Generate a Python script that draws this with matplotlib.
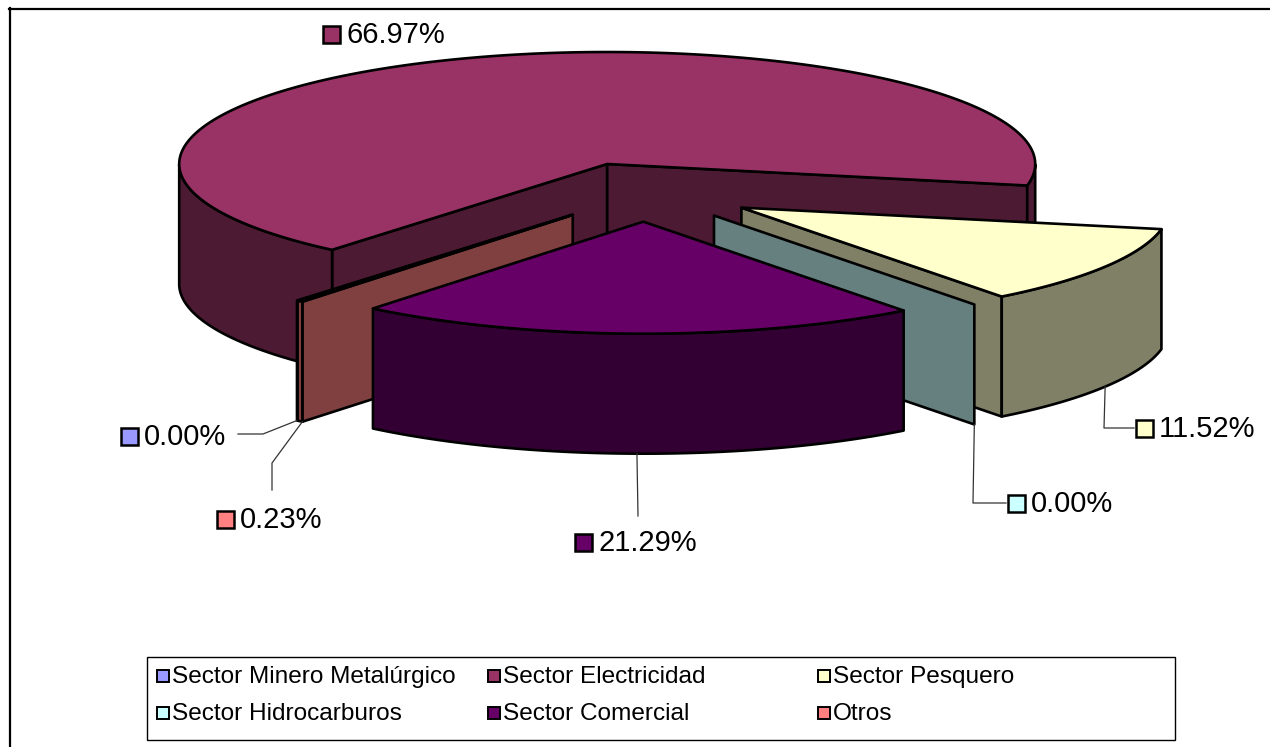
import numpy as np
import matplotlib.pyplot as plt
from matplotlib.patches import Polygon, Rectangle

# Datos
sectores = ["Sector Minero Metalúrgico", "Sector Electricidad", "Sector Pesquero",
            "Sector Hidrocarburos", "Sector Comercial", "Otros"]
porcentajes = [0.00, 66.97, 11.52, 0.00, 21.29, 0.23]
etiquetas = ["0.00%", "66.97%", "11.52%", "0.00%", "21.29%", "0.23%"]

color_top = ["#9999FF", "#993366", "#FFFFCC", "#CCFFFF", "#660066", "#FF8080"]
color_lado = ["#4D4D80", "#4D1A33", "#808066", "#668080", "#330033", "#804040"]

plt.rcParams['font.family'] = ['Liberation Sans', 'DejaVu Sans']

# geometria de la torta 3D (en pixeles)
cx, cy = 645, 192
rx, ry = 428, 112
alto = 120
explode = 0.265
inicio = 230  # angulo inicial, sentido horario


def proy(x, y, z=0.0):
    return (cx + rx * np.asarray(x), cy - ry * np.asarray(y) + alto * np.asarray(z))


fig = plt.figure(figsize=(12.7, 7.47), dpi=100)
ax = fig.add_axes([0, 0, 1, 1])
ax.set_xlim(0, 1270)
ax.set_ylim(747, 0)
ax.axis("off")

total = sum(porcentajes)
cum = np.concatenate([[0], np.cumsum(porcentajes)])
th_hi = np.radians(inicio - 360 * cum[:-1] / total)
th_lo = np.radians(inicio - 360 * cum[1:] / total)

rebanadas = []
for i in range(len(porcentajes)):
    mid = (th_hi[i] + th_lo[i]) / 2
    rebanadas.append((i, th_lo[i], th_hi[i], explode * np.cos(mid), explode * np.sin(mid), mid))

kw = dict(edgecolor="black", linewidth=1.9, joinstyle="round")

# paredes: de atras hacia adelante
for i, lo, hi, ox, oy, mid in sorted(rebanadas, key=lambda r: -np.sin(r[5])):
    # caras radiales
    caras = [(hi, hi + np.pi / 2), (lo, lo - np.pi / 2)]
    if hi == lo:
        caras = caras[1:] if np.sin(caras[0][1]) >= 0 else caras[:1]
    for phi, normal in caras:
        if np.sin(normal) < 0:
            xs = [ox, ox + np.cos(phi), ox + np.cos(phi), ox]
            ys = [oy, oy + np.sin(phi), oy + np.sin(phi), oy]
            zs = [0, 0, 1, 1]
            px, py = proy(xs, ys, zs)
            ax.add_patch(Polygon(np.column_stack([px, py]), facecolor=color_lado[i], **kw))
    # pared curva visible (frente)
    if hi > lo:
        t = np.linspace(lo, hi, 800)
        vis = np.sin(t) < 0
        idx = np.where(vis)[0]
        if len(idx):
            grupos = np.split(idx, np.where(np.diff(idx) > 1)[0] + 1)
            for g in grupos:
                tt = t[g]
                xt, yt = proy(ox + np.cos(tt), oy + np.sin(tt), 0)
                xb, yb = proy(ox + np.cos(tt), oy + np.sin(tt), 1)
                pts = np.column_stack([np.concatenate([xt, xb[::-1]]),
                                       np.concatenate([yt, yb[::-1]])])
                ax.add_patch(Polygon(pts, facecolor=color_lado[i], **kw))

# caras superiores
for i, lo, hi, ox, oy, mid in rebanadas:
    if hi > lo:
        t = np.linspace(lo, hi, 400)
        xs = np.concatenate([[ox], ox + np.cos(t)])
        ys = np.concatenate([[oy], oy + np.sin(t)])
        px, py = proy(xs, ys, 0)
        ax.add_patch(Polygon(np.column_stack([px, py]), facecolor=color_top[i], **kw))

# etiquetas de datos con lineas guia
pos_etiqueta = [(129, 436), (331, 34), (1144, 428), (1016, 503), (583, 542), (225, 519)]
codos = [[(263, 434), (238, 434)],
         [],
         [(1104, 428), (1134, 428)],
         [(973, 503), (1006, 503)],
         [(638, 516)],
         [(272, 463), (272, 490)]]
for i, lo, hi, ox, oy, mid in rebanadas:
    ang = mid if porcentajes[i] > 1 else hi
    if codos[i]:
        x0, y0 = proy(ox + np.cos(ang), oy + np.sin(ang), 1)
        lx = [float(x0)] + [p[0] for p in codos[i]]
        ly = [float(y0)] + [p[1] for p in codos[i]]
        ax.plot(lx, ly, color="#333333", lw=0.9)
    sx, sy = pos_etiqueta[i]
    ax.add_patch(Rectangle((sx - 8.5, sy - 8.5), 17, 17, facecolor=color_top[i],
                           edgecolor="black", lw=1.8))
    ax.text(sx + 15, sy + 1, etiquetas[i], fontsize=21, va="center", ha="left")

# leyenda
ax.add_patch(Rectangle((147, 657), 1028, 83, facecolor="white", edgecolor="black", lw=1))
col_x = [163, 494, 824]
fila_y = [676, 713]
for k, nombre in enumerate(sectores):
    x = col_x[k % 3]
    y = fila_y[k // 3]
    ax.add_patch(Rectangle((x - 6, y - 6), 12, 12, facecolor=color_top[k],
                           edgecolor="black", lw=1.4))
    ax.text(x + 9, y + 1, nombre, fontsize=17.6, va="center", ha="left")

# borde del area del grafico
ax.plot([9, 1270], [8.5, 8.5], color="black", lw=1.6)
ax.plot([9.5, 9.5], [8, 747], color="black", lw=1.6)

fig.savefig("out.png", dpi=100)
